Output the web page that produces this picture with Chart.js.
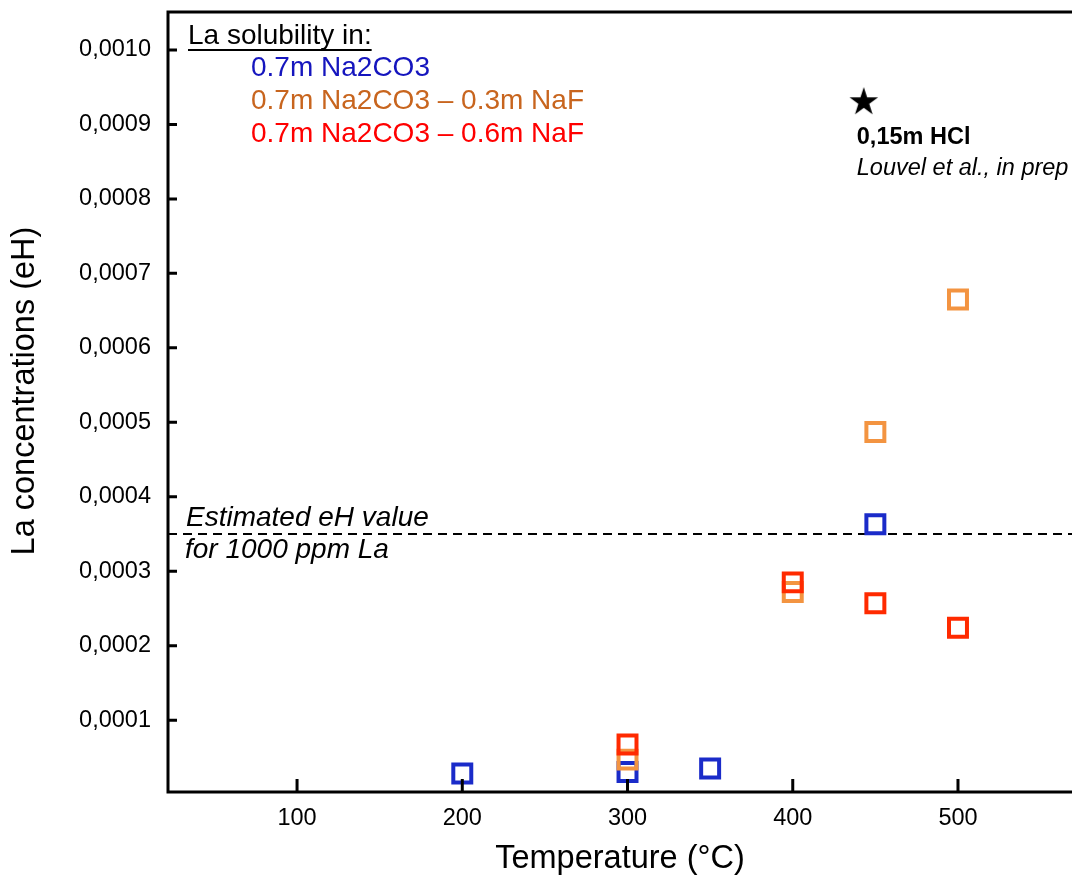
<!DOCTYPE html>
<html>
<head>
<meta charset="utf-8">
<script src="https://cdn.jsdelivr.net/npm/chart.js@4"></script>
<style>
  html, body { margin: 0; padding: 0; background: #fff; }
  canvas { display: block; }
</style>
</head>
<body>
<canvas id="laChart" width="1072" height="877"></canvas>
<script>
// La solubility data (temperature in °C, concentration in eH)
const naco3Temps = [200, 300, 350, 450];
const naco3Values = [0.0000283, 0.0000305, 0.000035, 0.000363];

const naf03Temps = [300, 400, 450, 500];
const naf03Values = [0.000047, 0.000272, 0.000487, 0.000665];

const naf06Temps = [300, 400, 450, 500];
const naf06Values = [0.0000674, 0.000285, 0.000257, 0.000224];

const hclTemps = [443];
const hclValues = [0.00093];

const eH1000ppm = 0.00035;

const xTicks = [100, 200, 300, 400, 500];
const yTicks = [0.0001, 0.0002, 0.0003, 0.0004, 0.0005, 0.0006, 0.0007, 0.0008, 0.0009, 0.0010];
const xRange = [21.9, 569];
const yRange = [0.0000035, 0.001051];

const FONT = '"Liberation Sans", Arial, sans-serif';

function toPoints(xs, ys) {
    return xs.map((x, i) => ({ x: x, y: ys[i] }));
}

// filled black star used as point style
function makeStar(R) {
    const c = document.createElement('canvas');
    const s = Math.ceil(R * 2 + 2);
    c.width = s; c.height = s;
    const g = c.getContext('2d');
    const r = R * 0.382;
    g.beginPath();
    for (let i = 0; i < 10; i++) {
        const rad = i % 2 === 0 ? R : r;
        const a = -Math.PI / 2 + i * Math.PI / 5;
        const px = s / 2 + rad * Math.cos(a);
        const py = s / 2 + rad * Math.sin(a);
        if (i === 0) g.moveTo(px, py); else g.lineTo(px, py);
    }
    g.closePath();
    g.fillStyle = '#000';
    g.fill();
    return c;
}

function noPadding(scale) {
    scale.paddingTop = 0;
    scale.paddingBottom = 0;
    scale.paddingLeft = 0;
    scale.paddingRight = 0;
}

const frameAndText = {
    id: 'frameAndText',
    afterDraw(chart) {
        const { ctx, chartArea: { left, top, right, bottom }, scales: { x, y } } = chart;
        ctx.save();

        // frame
        ctx.strokeStyle = '#000';
        ctx.lineWidth = 3;
        ctx.beginPath();
        ctx.moveTo(right + 2, top);
        ctx.lineTo(left, top);
        ctx.lineTo(left, bottom);
        ctx.lineTo(right + 2, bottom);
        ctx.stroke();

        // inward ticks
        ctx.beginPath();
        yTicks.forEach(v => {
            const py = y.getPixelForValue(v);
            ctx.moveTo(left, py);
            ctx.lineTo(left + 9, py);
        });
        xTicks.forEach(v => {
            const px = x.getPixelForValue(v);
            ctx.moveTo(px, bottom);
            ctx.lineTo(px, bottom - 13);
        });
        ctx.stroke();

        // y axis title
        ctx.fillStyle = '#000';
        ctx.textBaseline = 'middle';
        ctx.textAlign = 'center';
        ctx.font = '32.5px ' + FONT;
        ctx.save();
        ctx.translate(25, 391);
        ctx.rotate(-Math.PI / 2);
        ctx.fillText('La concentrations (eH)', 0, 0);
        ctx.restore();

        // legend block
        ctx.textAlign = 'left';
        ctx.font = '28px ' + FONT;
        ctx.fillText('La solubility in:', 188, 36);
        const w = ctx.measureText('La solubility in:').width;
        ctx.lineWidth = 2;
        ctx.beginPath();
        ctx.moveTo(188, 50);
        ctx.lineTo(188 + w, 50);
        ctx.stroke();

        ctx.fillStyle = '#1515be';
        ctx.fillText('0.7m Na2CO3', 251, 68);
        ctx.fillStyle = '#c8651e';
        ctx.fillText('0.7m Na2CO3 \u2013 0.3m NaF', 251, 101);
        ctx.fillStyle = '#ff0000';
        ctx.fillText('0.7m Na2CO3 \u2013 0.6m NaF', 251, 134);

        // star annotation
        const sx = x.getPixelForValue(hclTemps[0]);
        const sy = y.getPixelForValue(hclValues[0]);
        ctx.fillStyle = '#000';
        ctx.font = 'bold 23.5px ' + FONT;
        ctx.fillText('0,15m HCl', sx - 7, sy + 35);
        ctx.font = 'italic 23.5px ' + FONT;
        ctx.fillText('Louvel et al., in prep', sx - 7, sy + 66);

        // estimate line label
        const ly = y.getPixelForValue(eH1000ppm);
        ctx.font = 'italic 28px ' + FONT;
        ctx.fillText('Estimated eH value', left + 18, ly - 16);
        ctx.fillText('for 1000 ppm La', left + 17, ly + 16);

        ctx.restore();
    }
};

const squareStyle = (color) => ({
    pointStyle: 'rect',
    pointRadius: 12.7,
    pointHoverRadius: 12.7,
    pointBorderWidth: 4,
    pointBorderColor: color,
    pointBackgroundColor: 'rgba(255,255,255,0)',
    borderColor: color,
    showLine: false
});

new Chart(document.getElementById('laChart'), {
    type: 'scatter',
    data: {
        datasets: [
            Object.assign({ label: '0.7m Na2CO3 - 0.6m NaF', data: toPoints(naf06Temps, naf06Values), order: 1 }, squareStyle('#ff2a00')),
            Object.assign({ label: '0.7m Na2CO3 - 0.3m NaF', data: toPoints(naf03Temps, naf03Values), order: 2 }, squareStyle('#f39441')),
            Object.assign({ label: '0.7m Na2CO3', data: toPoints(naco3Temps, naco3Values), order: 3 }, squareStyle('#1a2bc9')),
            {
                label: '0,15m HCl',
                data: toPoints(hclTemps, hclValues),
                pointStyle: makeStar(15),
                pointRadius: 15,
                showLine: false,
                order: 0
            },
            {
                label: 'eH 1000 ppm',
                type: 'line',
                data: [{ x: xRange[0], y: eH1000ppm }, { x: xRange[1], y: eH1000ppm }],
                borderColor: '#000',
                borderWidth: 2,
                borderDash: [9, 6],
                pointRadius: 0,
                fill: false,
                order: 4
            }
        ]
    },
    options: {
        responsive: false,
        animation: false,
        layout: { autoPadding: false, padding: { top: 12, right: 0, left: 0, bottom: 0 } },
        plugins: {
            legend: { display: false },
            tooltip: { enabled: false }
        },
        scales: {
            x: {
                type: 'linear',
                min: xRange[0],
                max: xRange[1],
                afterBuildTicks: (scale) => { scale.ticks = xTicks.map(v => ({ value: v })); },
                afterFit: (scale) => { scale.height = 85; noPadding(scale); },
                grid: { display: false, drawTicks: false },
                border: { display: false },
                ticks: {
                    color: '#000',
                    padding: 12,
                    maxRotation: 0,
                    autoSkip: false,
                    font: { family: FONT, size: 23.5 },
                    callback: (v) => String(v)
                },
                title: {
                    display: true,
                    text: 'Temperature (\u00B0C)',
                    color: '#000',
                    padding: { top: 0, bottom: 0 },
                    font: { family: FONT, size: 32.5, lineHeight: 1.1 }
                }
            },
            y: {
                type: 'linear',
                min: yRange[0],
                max: yRange[1],
                afterBuildTicks: (scale) => { scale.ticks = yTicks.map(v => ({ value: v })); },
                afterFit: (scale) => { scale.width = 168; noPadding(scale); },
                grid: { display: false, drawTicks: false },
                border: { display: false },
                ticks: {
                    color: '#000',
                    padding: 17,
                    autoSkip: false,
                    font: { family: FONT, size: 23.5 },
                    callback: (v) => v.toFixed(4).replace('.', ',')
                }
            }
        }
    },
    plugins: [frameAndText]
});
</script>
</body>
</html>
